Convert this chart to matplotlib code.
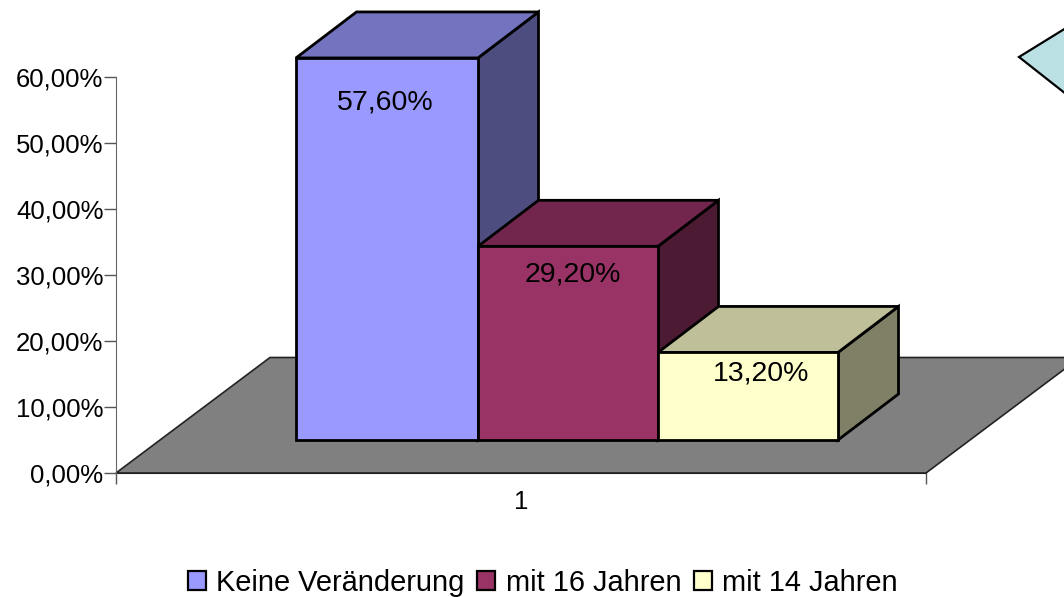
import matplotlib
matplotlib.use("Agg")
from matplotlib import pyplot as plt
from matplotlib.patches import Polygon, Patch

plt.rcParams['font.family'] = ['Liberation Sans', 'DejaVu Sans']

series = ["Keine Veränderung", "mit 16 Jahren", "mit 14 Jahren"]
values = [57.6, 29.2, 13.2]
labels = ["57,60%", "29,20%", "13,20%"]
front = ["#9999FF", "#993366", "#FFFFCC"]
top = ["#7373BF", "#73264D", "#BFBF99"]
side = ["#4D4D80", "#4D1A33", "#808066"]
yticks = [0, 10, 20, 30, 40, 50, 60]
yticklabels = ["0,00%", "10,00%", "20,00%", "30,00%", "40,00%", "50,00%", "60,00%"]

W, H = 1064, 597
fig = plt.figure(figsize=(W / 100, H / 100), dpi=100)
ax = fig.add_axes([116 / W, (H - 473) / H, 810 / W, 396 / H])
ax.set_xlim(0.5, 1.5)
ax.set_ylim(0, 60)

# pixels to data units
px = 1.0 / 810
py = 60.0 / 396

# floor
fdx, fdy = 154 * px, 115.5 * py
ax.add_patch(Polygon([(0.5, 0), (0.5 + fdx, fdy), (1.5 + fdx, fdy), (1.5, 0)],
                     fc="#808080", ec="#222222", lw=1.2, clip_on=False, zorder=1))

# bars
bar_w = [182 * px, 180 * px, 180 * px]
base = 33 * py
dx, dy = 60.5 * px, 46 * py
label_dx = [-2, 5, 13]
label_dy = [45, 28, 21]
x = 0.5 + 180 * px
for i in range(3):
    h = values[i] * 1.005
    w = bar_w[i]
    y0, y1 = base, base + h
    style = dict(ec="black", lw=2, clip_on=False, zorder=2 + i, joinstyle="miter")
    ax.add_patch(Polygon([(x + w, y0), (x + w + dx, y0 + dy), (x + w + dx, y1 + dy), (x + w, y1)],
                         fc=side[i], **style))
    ax.add_patch(Polygon([(x, y1), (x + dx, y1 + dy), (x + w + dx, y1 + dy), (x + w, y1)],
                         fc=top[i], **style))
    ax.add_patch(Polygon([(x, y0), (x + w, y0), (x + w, y1), (x, y1)],
                         fc=front[i], **style))
    ax.text(x + w / 2 + label_dx[i] * px, y1 - label_dy[i] * py, labels[i], ha="center", va="center",
            fontsize=20.5, color="black", zorder=10)
    x += w

ax.set_yticks(yticks)
ax.set_yticklabels(yticklabels, fontsize=18.5)
ax.set_xticks([0.5, 1.5])
ax.set_xticklabels(["", ""])
ax.text(1.0, -29 * py, "1", ha="center", va="center", fontsize=18.5)
ax.tick_params(axis="y", length=9, width=1, color="#555555", pad=0)
ax.tick_params(axis="x", length=8, width=1, color="#555555")
ax.patch.set_visible(False)
for s in ["top", "right"]:
    ax.spines[s].set_visible(False)
ax.spines["left"].set_color("#666666")
ax.spines["bottom"].set_color("#222222")
ax.spines["bottom"].set_zorder(1.5)

# piece of the neighbouring pie, cut off by the image edge
fig.add_artist(Polygon([(1019 / W, 1 - 57 / H), (1066 / W, 1 - 28 / H), (1066 / W, 1 - 94 / H)],
                       transform=fig.transFigure, fc="#BBE0E3", ec="black", lw=1.6))

handles = [Patch(fc=front[i], ec="black", lw=1.6, label=series[i]) for i in range(3)]
fig.legend(handles=handles, ncol=3, loc="center", bbox_to_anchor=(543 / W, 1 - 583 / H),
           frameon=False, fontsize=20.9, handlelength=0.62, handleheight=0.62,
           handletextpad=0.35, columnspacing=0.45, borderpad=0, borderaxespad=0)

fig.savefig("out.png", dpi=100)
